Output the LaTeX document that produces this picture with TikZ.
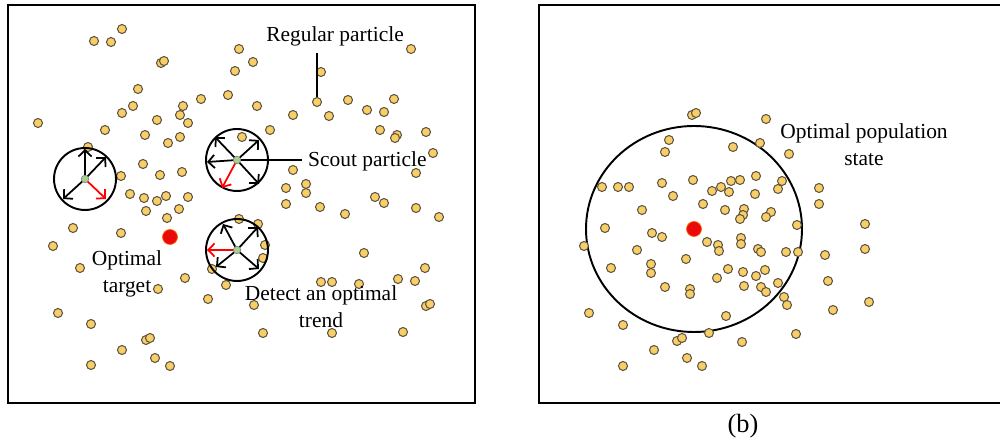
\documentclass[tikz,border=0pt]{standalone}
\usepackage{fontspec}
\setmainfont{Liberation Serif}
\usetikzlibrary{arrows.meta}

\definecolor{partfill}{RGB}{248,206,102}
\definecolor{partline}{RGB}{95,85,70}
\definecolor{scoutfill}{RGB}{168,208,141}
\definecolor{bestred}{RGB}{235,10,10}

\tikzset{
  part/.style={circle,draw=partline,fill=partfill,line width=0.6pt,minimum size=0.18cm,inner sep=0pt},
  scout/.style={circle,draw=gray,fill=scoutfill,line width=0.4pt,minimum size=0.15cm,inner sep=0pt},
  best/.style={circle,draw=orange!80!red,fill=bestred,line width=0.4pt,minimum size=0.30cm,inner sep=0pt},
  probe/.style={circle,draw,line width=1.1pt,minimum size=1.24cm,inner sep=0pt},
  sense/.style={->,line width=1pt},
  good/.style={sense,red},
  lab/.style={font=\fontsize{12.2}{15.5}\selectfont,align=center},
  frame/.style={line width=1.4pt}
}

\begin{document}
\begin{tikzpicture}[x=0.02cm,y=-0.02cm,>={Straight Barb[length=3.6pt,width=7.5pt]}]
\useasboundingbox (0,0) rectangle (1000,445);
\clip (0,0) rectangle (1000,445);
% (a) panel
\draw[frame] (8,5) rectangle (475,403);
\foreach \x/\y [count=\i] in {94/41,111/42,122/29,239/49,411/49,161/63,164/61,253/62,235/71,321/72,
  138/89,228/95,201/99,348/100,394/99,133/106,122/113,183/106,180/115,157/120,188/123,257/106,
  293/115,329/116,367/110,384/112,38/123,105/130,145/135,168/143,180/137,270/130,242/137,380/130,
  397/135,395/138,426/132,433/153,88/147,143/164,160/175,182/172,121/176,293/170,416/173,286/188,
  306/184,306/193,130/194,144/198,157/201,166/196,188/197,146/211,179/209,167/218,286/204,320/207,
  345/214,375/197,384/203,416/208,439/217,73/228,121/233,53/246,239/219,258/224,265/245,263/258,
  212/269,364/253,425/268,80/268,158/289,185/278,226/285,208/299,321/282,332/282,359/284,398/279,
  415/281,426/306,430/304,254/305,58/313,91/324,263/333,332/333,403/332,146/340,150/338,122/350,
  155/358,170/366,91/365}
  \node[part] (a\i) at (\x,\y) {};
\node[part] (regp) at (317,102) {};
\node[best] (besta) at (170,237) {};
% scout particles
\coordinate (o1) at (85,179);
\coordinate (o2) at (237,160);
\coordinate (o3) at (237,250);
\node[probe] (c1) at (o1) {};
\node[probe] (c2) at (o2) {};
\node[probe] (c3) at (o3) {};
\foreach \dx/\dy in {0/-30,21/-22,-22/20} \draw[sense] (o1) -- ++(\dx,\dy);
\draw[good] (o1) -- ++(21,20);
\foreach \dx/\dy in {-22/-23,22/-20,-30/2,22/24} \draw[sense] (o2) -- ++(\dx,\dy);
\draw[good] (o2) -- ++(-15,28);
\foreach \dx/\dy in {-14/-26,21/-23,-21/17,22/19} \draw[sense] (o3) -- ++(\dx,\dy);
\draw[good] (o3) -- ++(-30,0);
\node[scout] (s1) at (o1) {};
\node[scout] (s2) at (o2) {};
\node[scout] (s3) at (o3) {};
% labels
\node[lab,anchor=base] (reglab) at (335,42) {Regular particle};
\draw[line width=0.8pt] (regp |- reglab.south) -- (regp.north);
\node[lab,anchor=base west] (scoutlab) at (302,167) {Scout particle};
\draw[line width=0.8pt] (s2) -- (s2 -| scoutlab.west);
\node[lab,anchor=base] (targetlab) at (127,293) {Optimal\\target};
\node[lab,anchor=base] (trendlab) at (321,328) {Detect an optimal\\trend};
% (b) panel
\draw[frame] (539,5) rectangle (1010,403);
\draw[line width=1.1pt] (694,229) ellipse [x radius=108, y radius=103];
\foreach \x/\y [count=\i] in {692/115,696/113,766/119,669/140,665/152,733/147,760/143,789/154,
  602/187,618/187,629/187,662/183,693/180,673/196,712/191,721/187,729/192,731/181,740/180,756/176,
  755/194,778/189,782/181,819/188,819/204,703/204,725/210,744/209,743/215,740/219,771/212,766/217,
  642/210,605/228,797/225,865/224,652/233,662/237,584/246,707/242,718/245,719/251,741/238,741/244,
  758/249,761/252,786/252,798/252,865/249,825/255,637/250,686/259,611/268,651/264,651/273,728/269,
  743/272,756/276,765/270,717/278,828/281,665/287,690/289,690/294,744/286,761/287,766/292,778/283,
  784/297,787/305,869/302,833/310,589/313,623/325,726/316,709/333,796/334,677/341,682/338,742/342,
  654/350,687/358,702/366,623/366}
  \node[part] (b\i) at (\x,\y) {};
\node[best] (bestb) at (694,229) {};
\node[lab,anchor=base] (poplab) at (864,166) {Optimal population\\state};
\node[lab,font=\fontsize{15}{18}\selectfont,anchor=base] (capb) at (743,433) {(b)};
\end{tikzpicture}
\end{document}
